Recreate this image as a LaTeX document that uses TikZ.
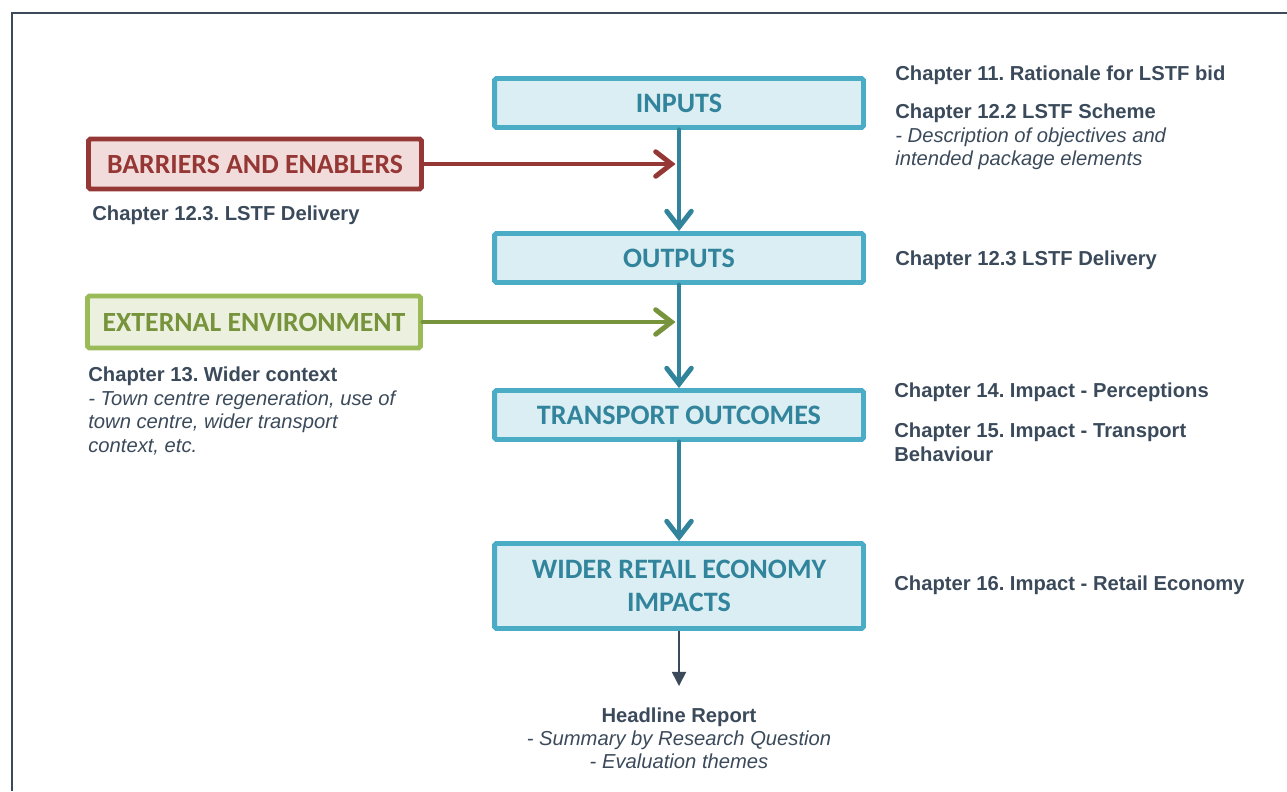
\documentclass[tikz,border=0pt]{standalone}
\usepackage{fontspec}
\setmainfont{Liberation Sans}
\newfontfamily\boxfont{Carlito}
\usetikzlibrary{arrows.meta}
\definecolor{tealline}{HTML}{4BACC6}
\definecolor{tealfill}{HTML}{DAEEF3}
\definecolor{tealtext}{HTML}{31849B}
\definecolor{redline}{HTML}{953735}
\definecolor{redfill}{HTML}{F2DCDB}
\definecolor{greenline}{HTML}{9BBB59}
\definecolor{greenfill}{HTML}{EBF1DE}
\definecolor{greentext}{HTML}{77933C}
\definecolor{slate}{HTML}{3B4A5A}
\frenchspacing

\begin{document}
\begin{tikzpicture}[
        x=0.02cm, y=-0.02cm,
        stage/.style={draw=tealline, fill=tealfill, line width=2.8pt, rounded corners=1pt,
            minimum width=7.38cm, minimum height=0.98cm, text=tealtext, align=center,
            font=\boxfont\bfseries\fontsize{16}{18.5}\selectfont},
        factor/.style={line width=2.8pt, rounded corners=1pt,
            minimum width=6.66cm, minimum height=1cm,
            font=\boxfont\bfseries\fontsize{15.8}{18.5}\selectfont},
        note/.style={text=slate, inner sep=0pt, align=left,
            font=\fontsize{11.5}{13.3}\selectfont},
        head/.style={note, font=\fontsize{11.5}{13.3}\selectfont\bfseries},
        flow/.style={tealtext, line width=2.8pt, line cap=round,
            -{Straight Barb[length=9pt, width=14pt, line cap=round]}}
    ]
    \useasboundingbox (0,0) rectangle (1287,791);
    \draw[slate, line width=1.2pt] (1287,13) -- (12,13) -- (12,791);

    \node[stage] (inputs) at (679,103) {INPUTS};
    \node[stage] (outputs) at (679,258) {OUTPUTS};
    \node[stage] (transport) at (679,415) {TRANSPORT OUTCOMES};
    \node[stage, minimum height=1.7cm] (retail) at (679,586) {WIDER RETAIL ECONOMY\\IMPACTS};
    \node[factor, draw=redline, fill=redfill, text=redline] (barriers) at (255,164) {BARRIERS AND ENABLERS};
    \node[factor, draw=greenline, fill=greenfill, text=greentext, minimum height=1.04cm] (external) at (254,322) {EXTERNAL ENVIRONMENT};
    \coordinate (report) at (679,686);

    \draw[flow] (inputs) -- (outputs);
    \draw[flow] (outputs) -- (transport);
    \draw[flow] (transport) -- (retail);
    \draw[flow, redline, shorten >=2pt] (barriers) -- (barriers -| inputs);
    \draw[flow, greentext, shorten >=2pt] (external) -- (external -| inputs);
    \draw[slate, line width=0.9pt, -{Triangle[length=8pt, width=8pt]}] (retail) -- (report);

    \node[head, anchor=base west] (ch11) at (895,80) {Chapter 11. Rationale for LSTF bid};
    \node[note, anchor=north west] (ch122) at (895,104) {\textbf{Chapter 12.2 LSTF Scheme}\\
        \textit{- Description of objectives and}\\\textit{intended package elements}};
    \node[head, anchor=base west] (ch123) at (895,265) {Chapter 12.3 LSTF Delivery};
    \node[head, anchor=base west] (ch14) at (894,397) {Chapter 14. Impact - Perceptions};
    \node[head, anchor=north west] (ch15) at (894,423) {Chapter 15. Impact - Transport\\Behaviour};
    \node[head, anchor=base west] (ch16) at (894,590) {Chapter 16. Impact - Retail Economy};
    \node[head, anchor=base west] (delivery) at (92,220) {Chapter 12.3. LSTF Delivery};
    \node[note, anchor=north west] (ch13) at (88,367) {\textbf{Chapter 13. Wider context}\\
        \textit{- Town centre regeneration, use of}\\\textit{town centre, wider transport}\\\textit{context, etc.}};
    \node[note, align=center, anchor=north] (headline) at (679,707) {\textbf{Headline Report}\\
        \textit{- Summary by Research Question}\\\textit{- Evaluation themes}};
\end{tikzpicture}
\end{document}
